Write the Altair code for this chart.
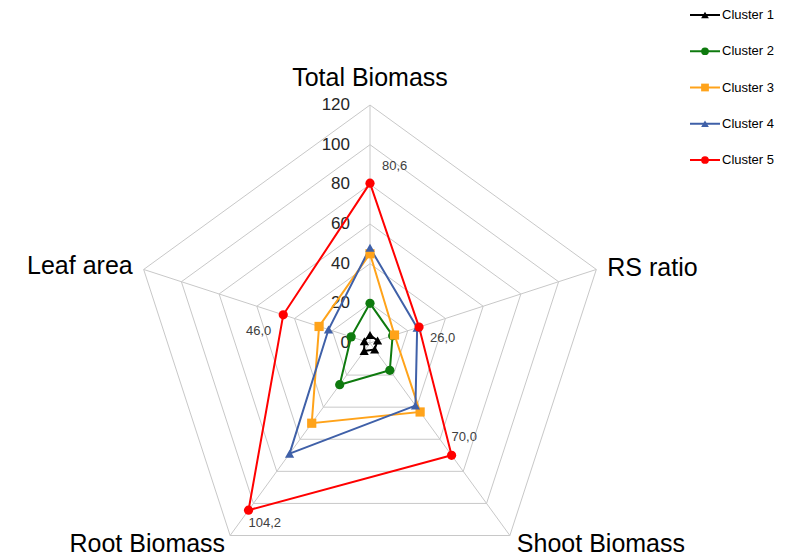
import math
import altair as alt
import pandas as pd

# ---- data ----
axes_names = ["Total Biomass", "RS ratio", "Shoot Biomass", "Root Biomass", "Leaf area"]
clusters = ["Cluster 1", "Cluster 2", "Cluster 3", "Cluster 4", "Cluster 5"]
cluster1 = [4, 4, 4, 5, 3]
cluster2 = [20, 12, 17, 26, 10]
cluster3 = [45, 13, 43, 50, 27]
cluster4 = [48, 25, 39, 69, 22]
cluster5 = [80.6, 26.0, 70.0, 104.2, 46.0]
label_text = ["80,6", "26,0", "70,0", "104,2", "46,0"]
ticks = [0, 20, 40, 60, 80, 100, 120]

series = [cluster1, cluster2, cluster3, cluster4, cluster5]
colors = ["#000000", "#0E7A0E", "#FFA31A", "#3F60A8", "#FF0000"]
shapes = ["triangle-up", "circle", "square", "triangle-up", "circle"]

# ---- geometry ----
W, H = 774, 548
cx, cy, k = 370, 343, 1.983
xmin, xmax = (8 - cx) / k, (8 + W - cx) / k
ymax, ymin = (cy - 8) / k, (cy - 8 - H) / k
angles = [math.radians(90 - 72 * i) for i in range(5)]


def pos(v, i):
    return v * math.cos(angles[i]), v * math.sin(angles[i])


X = alt.X("x:Q", scale=alt.Scale(domain=[xmin, xmax], nice=False, zero=False), axis=None)
Y = alt.Y("y:Q", scale=alt.Scale(domain=[ymin, ymax], nice=False, zero=False), axis=None)
color_scale = alt.Scale(domain=clusters, range=colors)
shape_scale = alt.Scale(domain=clusters, range=shapes)

# rings
ring_rows = []
for r in ticks[1:]:
    for j in range(6):
        x, y = pos(r, j % 5)
        ring_rows.append({"ring": r, "o": j, "x": x, "y": y})
rings = alt.Chart(pd.DataFrame(ring_rows)).mark_line(color="#C8C8C8", strokeWidth=1).encode(
    x=X, y=Y, detail="ring:N", order="o:Q")

# spokes
spoke_rows = []
for i in range(5):
    x, y = pos(120, i)
    spoke_rows.append({"axis": axes_names[i], "o": 0, "x": 0, "y": 0})
    spoke_rows.append({"axis": axes_names[i], "o": 1, "x": x, "y": y})
spokes = alt.Chart(pd.DataFrame(spoke_rows)).mark_line(color="#C8C8C8", strokeWidth=1).encode(
    x=X, y=Y, detail="axis:N", order="o:Q")

# tick labels
tick_df = pd.DataFrame({"x": [0] * len(ticks), "y": ticks, "t": [str(t) for t in ticks]})
tick_labels = alt.Chart(tick_df).mark_text(
    align="right", baseline="middle", dx=-20, fontSize=17, font="Liberation Sans", color="#262626"
).encode(x=X, y=Y, text="t:N")

# category labels
cat_style = [
    dict(align="center", dx=0, dy=-27),
    dict(align="left", dx=11, dy=-1),
    dict(align="left", dx=7, dy=8),
    dict(align="right", dx=-5, dy=8),
    dict(align="right", dx=-11, dy=-3),
]
cat_layers = []
for i in range(5):
    x, y = pos(120, i)
    d = pd.DataFrame({"x": [x], "y": [y], "t": [axes_names[i]]})
    cat_layers.append(alt.Chart(d).mark_text(
        baseline="middle", fontSize=25, font="Liberation Sans", color="#000000", **cat_style[i]
    ).encode(x=X, y=Y, text="t:N"))

# series
line_rows, pt_rows = [], []
for c, vals in zip(clusters, series):
    for j in range(6):
        x, y = pos(vals[j % 5], j % 5)
        line_rows.append({"Cluster": c, "o": j, "x": x, "y": y})
        if j < 5:
            pt_rows.append({"Cluster": c, "x": x, "y": y})
line_df = pd.DataFrame(line_rows)
pt_df = pd.DataFrame(pt_rows)
lines = alt.Chart(line_df).mark_line(strokeWidth=2).encode(
    x=X, y=Y, color=alt.Color("Cluster:N", scale=color_scale, legend=None),
    detail="Cluster:N", order="o:Q")
points = alt.Chart(pt_df).mark_point(filled=True, size=85, opacity=1).encode(
    x=X, y=Y,
    color=alt.Color("Cluster:N", scale=color_scale, legend=None),
    shape=alt.Shape("Cluster:N", scale=shape_scale, legend=None))

# data labels for cluster 5
lab_style = [
    dict(align="left", dx=12, dy=-17),
    dict(align="left", dx=11, dy=11),
    dict(align="left", dx=0, dy=-18),
    dict(align="left", dx=0, dy=13),
    dict(align="right", dx=-12, dy=16),
]
lab_layers = []
for i in range(5):
    x, y = pos(cluster5[i], i)
    d = pd.DataFrame({"x": [x], "y": [y], "t": [label_text[i]]})
    lab_layers.append(alt.Chart(d).mark_text(
        baseline="middle", fontSize=13, font="Liberation Sans", color="#404040", **lab_style[i]
    ).encode(x=X, y=Y, text="t:N"))

radar = alt.layer(rings, spokes, tick_labels, *cat_layers, lines, points, *lab_layers)

# custom legend
leg_df = pd.DataFrame({"Cluster": clusters})
LY = alt.Y("Cluster:N", scale=alt.Scale(type="point", domain=clusters, range=[7, 152], padding=0),
           axis=None)
leg_rule = alt.Chart(leg_df).mark_rule(strokeWidth=2).encode(
    x=alt.value(682), x2=alt.value(712), y=LY,
    color=alt.Color("Cluster:N", scale=color_scale, legend=None))
leg_pt = alt.Chart(leg_df).mark_point(filled=True, size=60, opacity=1).encode(
    x=alt.value(697), y=LY,
    color=alt.Color("Cluster:N", scale=color_scale, legend=None),
    shape=alt.Shape("Cluster:N", scale=shape_scale, legend=None))
leg_txt = alt.Chart(leg_df).mark_text(
    align="left", baseline="middle", fontSize=13, font="Liberation Sans", color="#000000"
).encode(x=alt.value(714), y=LY, text="Cluster:N")
legend = alt.layer(leg_rule, leg_pt, leg_txt)

chart = alt.layer(radar, legend).resolve_scale(y="independent", x="independent").properties(
    width=W, height=H, padding=0, background="white",
    autosize=alt.AutoSizeParams(type="none")
).configure_view(stroke=None)

chart.save("out.html", embed_options={"renderer": "svg", "actions": False})
